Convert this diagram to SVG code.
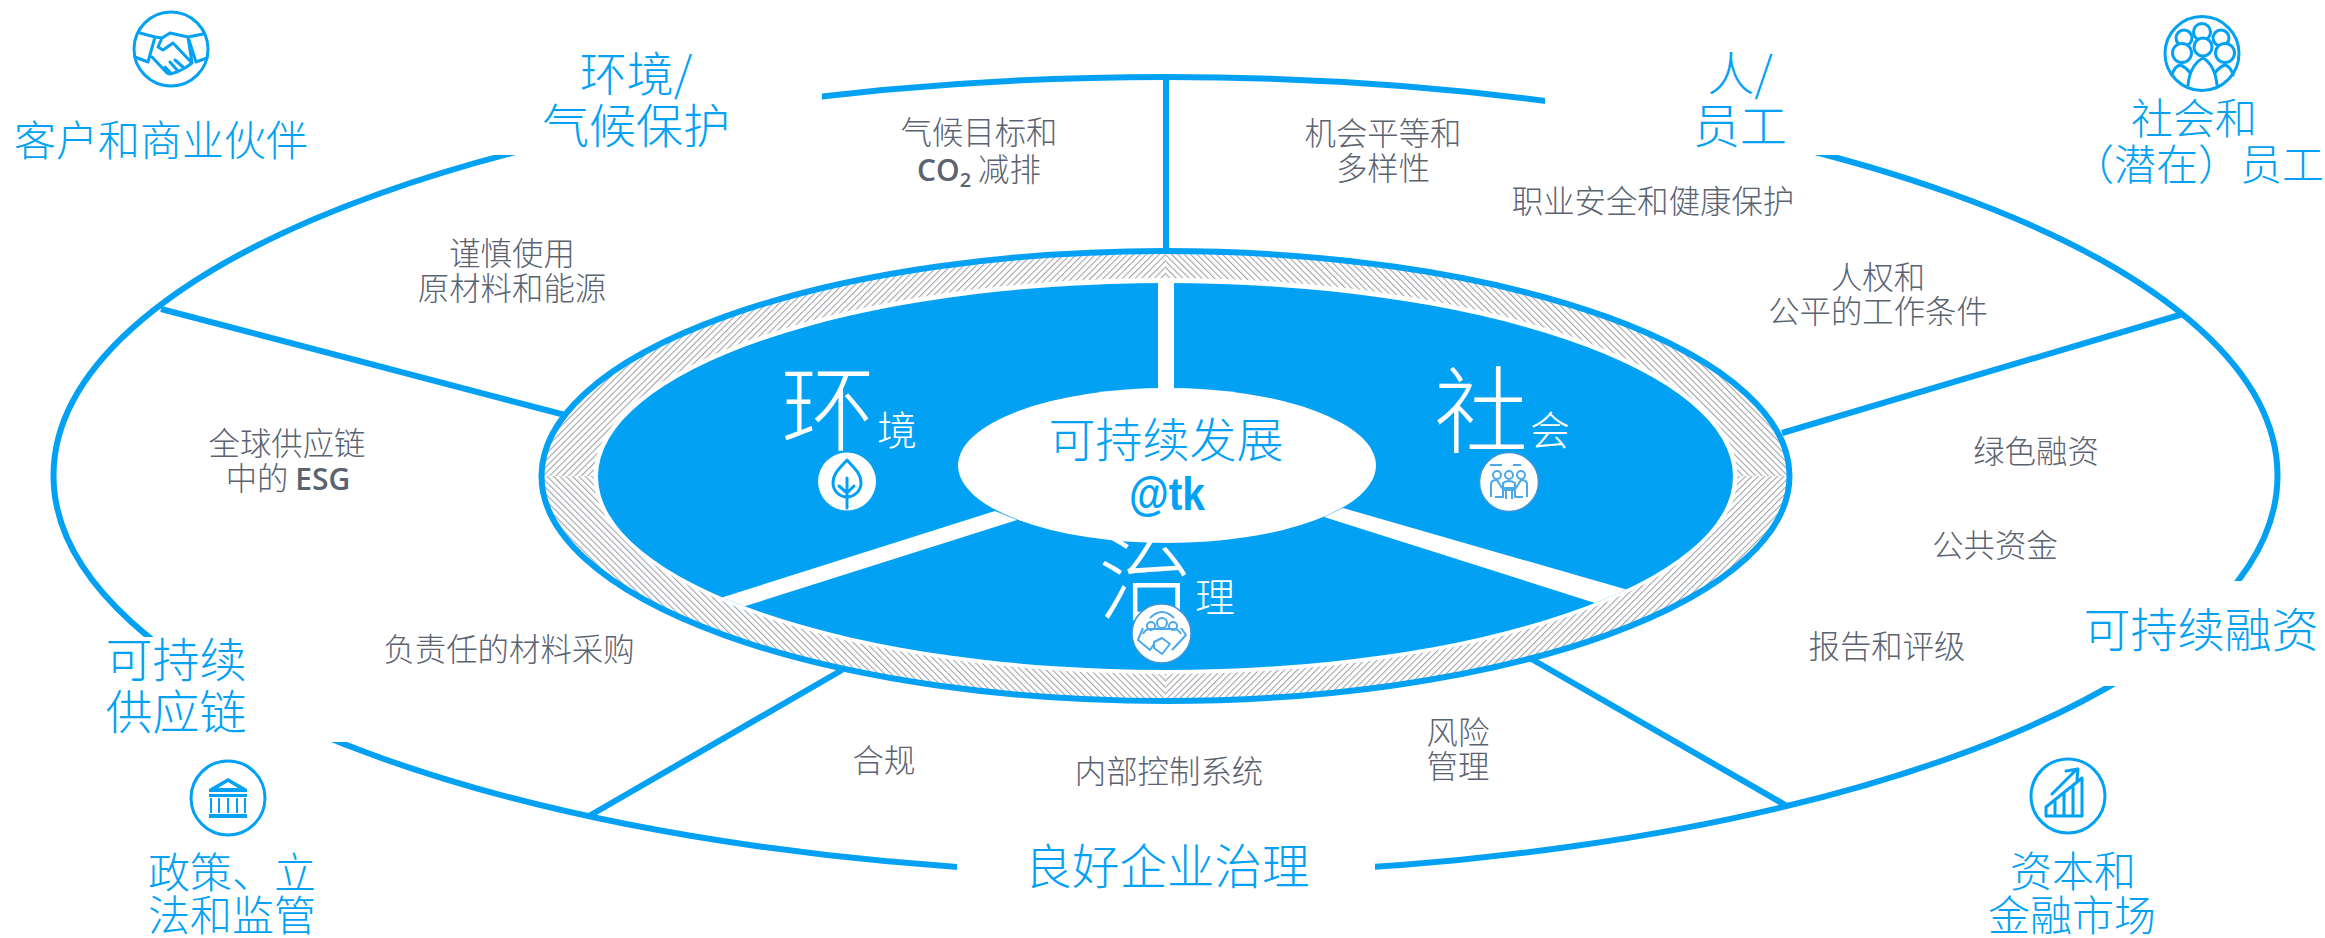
<svg xmlns="http://www.w3.org/2000/svg" width="2325" height="938" viewBox="0 0 2325 938">
<style>
text{font-family:"Noto Sans CJK SC","Liberation Sans",sans-serif;text-anchor:middle;font-weight:300}
.big{font-size:47px;fill:#03a1f4}
.mid{font-size:42px;fill:#03a1f4}
.sm{font-size:31.4px;fill:#5b6371}
.wl{font-size:94px;fill:#fff}
.ws{font-size:40px;fill:#fff}
.ln{fill:none;stroke:#03a1f4;stroke-width:6}
.ic{fill:none;stroke:#03a1f4;stroke-width:3;stroke-linecap:round;stroke-linejoin:round}
.ich{fill:#fff;stroke:#03a1f4;stroke-width:3}
.ic2{fill:none;stroke:#4aa9e6;stroke-width:2;stroke-linejoin:round}
.badge{fill:#fff;stroke:#3c97d8;stroke-width:1.5}
.lat{font-family:"Open Sans","Liberation Sans",sans-serif;font-weight:600}
</style>
<defs>
<pattern id="hA" width="4.5" height="4.5" patternUnits="userSpaceOnUse" patternTransform="rotate(45)"><rect width="4.5" height="4.5" fill="#fff"/><rect width="1.1" height="4.5" fill="#a2a5aa"/></pattern>
<pattern id="hB" width="4.5" height="4.5" patternUnits="userSpaceOnUse" patternTransform="rotate(-45)"><rect width="4.5" height="4.5" fill="#fff"/><rect width="1.1" height="4.5" fill="#a2a5aa"/></pattern>
<clipPath id="gaps"><path clip-rule="evenodd" d="M0 0H2325V938H0Z M470 0H822V155H470Z M1545 0H1850V155H1545Z M100 637H400V742H100Z M2040 581H2325V686H2040Z M957 830H1375V900H957Z"/></clipPath>
<clipPath id="blueClip"><ellipse cx="1165.5" cy="476.5" rx="567.5" ry="193.5"/></clipPath>
<clipPath id="ringClip"><ellipse cx="1165.5" cy="476" rx="624" ry="225"/></clipPath>
</defs>
<rect width="2325" height="938" fill="#fff"/>
<g id="connectors">
<ellipse class="ln" cx="1165.5" cy="475.5" rx="1112" ry="398.5" clip-path="url(#gaps)"/>
<line class="ln" x1="1166" y1="78" x2="1166" y2="252"/>
<line class="ln" x1="161" y1="309" x2="565" y2="415"/>
<line class="ln" x1="2183" y1="314" x2="1782" y2="433"/>
<line class="ln" x1="589" y1="816" x2="842" y2="670"/>
<line class="ln" x1="1528" y1="657" x2="1787" y2="806"/>
</g>
<g id="core">
<g id="ring">
<g clip-path="url(#ringClip)">
<rect x="530" y="240" width="636" height="236" fill="url(#hA)"/>
<rect x="1166" y="240" width="636" height="236" fill="url(#hB)"/>
<rect x="530" y="476" width="636" height="236" fill="url(#hB)"/>
<rect x="1166" y="476" width="636" height="236" fill="url(#hA)"/>
</g>
<ellipse cx="1165.5" cy="476" rx="572" ry="198" fill="#fff"/>
<ellipse class="ln" cx="1165.5" cy="476" rx="624" ry="225"/>
</g>
<ellipse cx="1165.5" cy="476.5" rx="567.5" ry="193.5" fill="#03a1f4"/>
<g clip-path="url(#blueClip)" fill="#fff">
<rect x="1158" y="270" width="16" height="130"/>
<polygon points="995,511 1017,520 736,609 714,600"/>
<polygon points="1343,508 1324,517 1595,603 1635,592"/>
</g>
<g id="seg-env"><text class="wl" x="828" y="444">环</text><text class="ws" x="897" y="445">境</text></g>
<g id="seg-soc"><text class="wl" x="1481" y="446">社</text><text class="ws" x="1550" y="445">会</text></g>
<g id="seg-gov"><text class="wl" x="1145" y="613">治</text><text class="ws" x="1215" y="612">理</text></g>
<g id="center"><ellipse cx="1167" cy="465.5" rx="209" ry="77.5" fill="#fff"/>
<text class="big" x="1166" y="457">可持续发展</text>
<text x="1167" y="510" font-size="46" fill="#03a1f4" textLength="76" lengthAdjust="spacingAndGlyphs" style="font-family:'Liberation Sans',sans-serif;font-weight:700">@tk</text></g>
<g id="badge-leaf"><circle cx="847" cy="481.5" r="29" fill="#fff"/>
<path class="ic" d="M847 460C838 470 833 474 833 483C833 491 840 497 847 497S861 491 861 483C861 474 856 470 847 460Z M847 478V508 M839 486l8 7l7-7"/></g>
<g id="badge-people"><circle class="badge" cx="1509" cy="482" r="29.5"/>
<g class="ic2"><circle cx="1497" cy="475" r="4"/><circle cx="1509" cy="475" r="4"/><circle cx="1521" cy="475" r="4"/><path d="M1491 497V484q0-4 6-4l5 8h14l5-8q6 0 6 4v13 M1503 483q6-4 12 0v7h-12Z M1495 497h8v-7 M1523 497h-8v-7 M1506 490v9 M1512 490v9"/><path d="M1490 465h12 M1513 465h8"/></g></g>
<g id="badge-gov"><circle class="badge" cx="1161.5" cy="633.5" r="29.5"/>
<g class="ic2"><circle cx="1162" cy="623" r="5"/><circle cx="1151" cy="626" r="4"/><circle cx="1173" cy="626" r="4"/><path d="M1150 618q12-12 24 0 M1143 634q2-5 8-5h22q6 0 8 5 M1143 628l-5 12l12 10l4-6 M1181 628l5 7l-14 15 M1154 642l8-4l8 6l-8 10l-8-6Z"/></g></g>
</g>
<g id="label-climate"><text class="big" x="636" y="91">环境/</text><text class="big" x="636" y="143">气候保护</text></g>
<g id="label-people"><text class="big" x="1740" y="91">人/</text><text class="big" x="1740" y="143">员工</text></g>
<g id="label-supply"><text class="big" x="176" y="677">可持续</text><text class="big" x="176" y="729">供应链</text></g>
<g id="label-gov"><text class="big" x="1167" y="884" style="font-size:47.5px">良好企业治理</text></g>
<g id="label-finance"><text class="big" x="2201" y="647">可持续融资</text></g>
<g id="node-partners">
<circle class="ic" cx="171" cy="49" r="37"/>
<path class="ic" d="M140 33L155 37L148 62L135 57 M203 34L188 37L196 62L207 58 M155 37L162 38L170 33L188 37L192 63 M162 38L158 47L163 50L173 43L192 63L185 68L177 72L170 74L167 73L152 57 M165 67L170 72 M170 62L177 70 M175 60L183 67"/>
</g>
<text class="mid" x="161" y="156">客户和商业伙伴</text>
<g id="node-society">
<circle class="ic" cx="2202" cy="53.5" r="37"/>
<circle class="ich" cx="2202" cy="32" r="8.5"/><circle class="ich" cx="2184" cy="38" r="8"/><circle class="ich" cx="2221" cy="38" r="8"/><circle class="ich" cx="2182" cy="53" r="9.5"/><circle class="ich" cx="2225" cy="53" r="9.5"/><circle class="ich" cx="2203" cy="47" r="9"/>
<path class="ic" d="M2188 85Q2190 65 2203 58Q2215 65 2217 85 M2172 75Q2174 67 2180 65Q2186 67 2190 73 M2233 75Q2231 67 2225 65Q2219 67 2215 73"/>
</g>
<g class="mid" id="label-society"><text x="2194" y="134">社会和</text><text x="2198" y="180">（潜在）员工</text></g>
<g id="node-policy">
<circle class="ic" cx="228" cy="798" r="37"/>
<path fill="#03a1f4" d="M228 778l19 11v3h-38v-3Zm0 4l-10 6h20Z"/>
<path fill="#03a1f4" d="M209 794h38v3h-38ZM209 814h38v4h-38Z"/>
<path class="ic" style="stroke-width:2;stroke-linecap:butt" d="M211 798v15M219 798v15M228 798v15M237 798v15M245 798v15"/>
</g>
<g class="mid" id="label-policy"><text x="232" y="888">政策、立</text><text x="232" y="931">法和监管</text></g>
<g id="node-capital">
<circle class="ic" cx="2068" cy="796" r="37"/>
<path class="ic" d="M2046 816v-9l36-29v38Z M2055 816v-16 M2064 816v-23 M2073 816v-30 M2052 794l25-25 M2066 771l12-2l-1 11"/>
</g>
<g class="mid" id="label-capital"><text x="2073" y="887">资本和</text><text x="2072" y="931">金融市场</text></g>
<g class="sm" id="topics">
<text x="979" y="144">气候目标和</text>
<text x="979" y="181"><tspan class="lat" font-size="30">CO</tspan><tspan class="lat" font-size="20" dy="6">2</tspan><tspan dy="-6"> 减排</tspan></text>
<text x="1383" y="145">机会平等和</text><text x="1383" y="180">多样性</text>
<text x="1653" y="213">职业安全和健康保护</text>
<text x="512" y="265">谨慎使用</text><text x="512" y="300">原材料和能源</text>
<text x="287" y="455">全球供应链</text><text x="288" y="490">中的 <tspan class="lat" font-size="30">ESG</tspan></text>
<text x="1878" y="289">人权和</text><text x="1878" y="323">公平的工作条件</text>
<text x="2036" y="463">绿色融资</text>
<text x="1995" y="557">公共资金</text>
<text x="1887" y="658">报告和评级</text>
<text x="509" y="661">负责任的材料采购</text>
<text x="884" y="772">合规</text>
<text x="1169" y="783">内部控制系统</text>
<text x="1458" y="744">风险</text><text x="1458" y="778">管理</text>
</g>
</svg>
